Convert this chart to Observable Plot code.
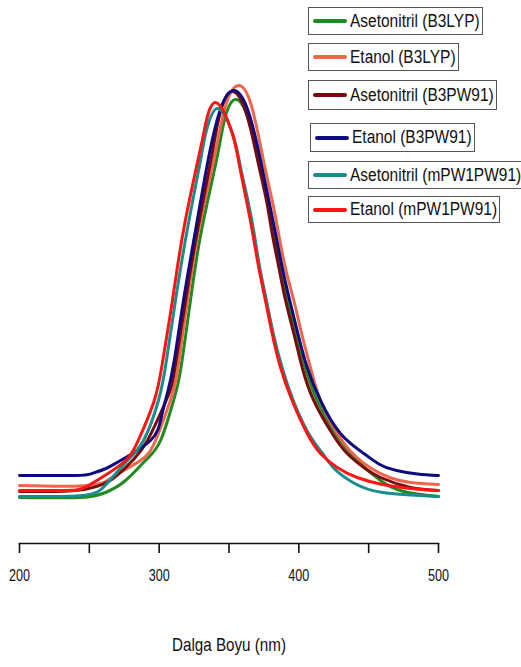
<!DOCTYPE html>
<html><head><meta charset="utf-8">
<script src="https://cdn.jsdelivr.net/npm/d3@7"></script>
<script src="https://cdn.jsdelivr.net/npm/@observablehq/plot@0.6"></script>
<style>
body{margin:0;background:#fff;}
#wrap{position:relative;width:521px;height:667px;font-family:"Liberation Sans",Arial,sans-serif;}
.lg{position:absolute;left:308px;height:28px;box-sizing:border-box;border:1px solid #555;display:flex;align-items:center;padding:0 2px 0 4px;font-size:18px;color:#111;background:#fff;white-space:nowrap;}
.sw{width:34px;height:4px;margin-right:3px;border-radius:2px;flex:none;}
.tx{display:inline-block;transform:scaleX(0.86);transform-origin:left center;}
</style>
</head><body>
<div id="wrap"></div>
<script>
const names = ["Asetonitril (B3LYP)", "Etanol (B3LYP)", "Asetonitril (B3PW91)", "Etanol (B3PW91)", "Asetonitril (mPW1PW91)", "Etanol (mPW1PW91)"];
const colors = ["#1f8a1f", "#f0664a", "#7a0a0a", "#0c0c80", "#1a8c8c", "#ff1414"];

const asetB3LYP_nm = [200, 243, 261.6, 275.9, 290.2, 301, 310.3, 315.3, 322.4, 330.3, 341, 347, 354.6, 363.7, 371, 377.5, 382.5, 387, 392, 397.8, 404.5, 413.1, 426.2, 441.8, 458.5, 475, 500];
const asetB3LYP_v  = [0, 0, 5, 17, 37, 57, 97, 127, 197, 267, 337, 379, 398, 379, 337, 297, 264, 230, 197, 164, 130, 97, 64, 37, 17, 6, 1];

const etB3LYP_nm = [200, 250, 268.7, 286.6, 297.4, 308, 313.1, 320.2, 328.2, 339, 347.6, 356.8, 366, 374.7, 380.9, 385.5, 390.3, 396.4, 402, 408.3, 415.5, 427.5, 440, 452, 465, 480, 500];
const etB3LYP_v  = [12, 12, 22, 37, 57, 97, 127, 197, 267, 337, 392, 412, 392, 337, 297, 264, 230, 197, 164, 130, 97, 64, 42, 29, 20, 15, 13];

const asetB3PW91_nm = [200, 240, 265, 280.9, 291.6, 305, 311, 318.9, 327.4, 337, 343.7, 352, 362.2, 370.5, 376.8, 380.9, 385.7, 390.5, 396.4, 402.4, 410.7, 423.9, 434.6, 446.5, 458.5, 480, 500];
const asetB3PW91_v  = [6, 7, 17, 37, 57, 97, 127, 197, 267, 337, 385, 406, 385, 337, 297, 264, 230, 197, 164, 130, 97, 64, 44, 30, 20, 10, 7];

const etB3PW91_nm = [200, 240, 252, 262, 272.3, 293.8, 301.5, 306, 310.8, 317.4, 326, 335, 343.6, 353.2, 363.6, 372.6, 378.5, 383.3, 388.1, 393.5, 399.3, 406, 415.5, 429.8, 446.5, 458, 470, 485, 500];
const etB3PW91_v  = [22, 22, 24, 29, 37, 57, 80, 105, 137, 197, 267, 337, 387, 407, 387, 337, 297, 264, 230, 197, 164, 130, 97, 64, 44, 33, 27, 23.5, 22];

const asetMPW_nm = [200, 245, 262, 277.3, 288.8, 299.5, 305.2, 311.7, 320, 330, 333, 341.5, 352.9, 358, 363.5, 368, 372, 376.8, 381.7, 388, 396, 407, 417, 426, 440, 460, 500];
const asetMPW_v  = [1, 2, 13, 37, 57, 97, 137, 197, 267, 340, 362, 389, 362, 332, 297, 264, 230, 197, 164, 130, 97, 64, 44, 28, 14, 5, 1];

const etMPW_nm = [200, 232, 245, 260, 276, 285, 296.5, 302.6, 309.5, 317.4, 328.2, 332.3, 340, 351.7, 356.8, 362.5, 367, 371.3, 376.1, 380.9, 386.9, 395.2, 406, 415.5, 427.5, 441.8, 460, 480, 500];
const etMPW_v  = [7, 7, 9, 21, 37, 57, 97, 137, 197, 267, 340, 367, 395, 367, 337, 297, 264, 230, 197, 164, 130, 97, 64, 44, 30, 20, 13, 9, 7];

const tickValues = [200, 250, 300, 350, 400, 450, 500];
const tickLabels = [200, 300, 400, 500];
const axisTitle = "Dalga Boyu (nm)";

const seriesX = [asetB3LYP_nm, etB3LYP_nm, asetB3PW91_nm, etB3PW91_nm, asetMPW_nm, etMPW_nm];
const seriesY = [asetB3LYP_v, etB3LYP_v, asetB3PW91_v, etB3PW91_v, asetMPW_v, etMPW_v];
const rows = [];
names.forEach((n, i) => seriesX[i].forEach((x, j) => rows.push({series: n, nm: x, v: seriesY[i][j]})));

const font = '"Liberation Sans",Arial,sans-serif';
const chart = Plot.plot({
  width: 521, height: 667,
  marginLeft: 19, marginRight: 83, marginTop: 20, marginBottom: 124,
  x: {domain: [200, 500]},
  y: {domain: [0, 400], range: [497, 97], axis: null},
  color: {domain: names, range: colors},
  style: {fontFamily: font, fontSize: "17px", color: "#111", background: "transparent"},
  marks: [
    Plot.line(rows, {x: "nm", y: "v", z: "series", stroke: "series", strokeWidth: 3, curve: "natural"}),
    Plot.frame({anchor: "bottom", strokeWidth: 1.6, stroke: "#111"}),
    Plot.axisX({ticks: tickValues, tickSize: 10, tickPadding: 15, strokeWidth: 1.6, fontSize: 17,
      tickFormat: d => tickLabels.includes(d) ? String(d) : "", label: null}),
    Plot.text([axisTitle], {frameAnchor: "bottom", dy: 107, fontSize: 19, text: d => d, fill: "#111"})
  ]
});
const wrap = document.getElementById("wrap");
wrap.appendChild(chart);
// condensed look of the original typeface
chart.querySelectorAll("text").forEach(t => {
  const w = t.getComputedTextLength();
  if (w > 0) {
    const f = t.textContent === axisTitle ? 0.8 : 0.74;
    t.setAttribute("textLength", (w * f).toFixed(1));
    t.setAttribute("lengthAdjust", "spacingAndGlyphs");
  }
});

const legendTops = [7, 43, 80, 123, 161, 196];
const legendHeights = [28, 28, 30, 29, 28, 27];
names.forEach((n, i) => {
  const d = document.createElement("div");
  d.className = "lg";
  d.style.top = legendTops[i] + "px";
  d.style.height = legendHeights[i] + "px";
  if (i === 3) d.style.left = "310px";
  const s = document.createElement("span");
  s.className = "sw";
  s.style.background = colors[i];
  d.appendChild(s);
  const t = document.createElement("span");
  t.className = "tx";
  t.textContent = n;
  d.appendChild(t);
  wrap.appendChild(d);
  const w = t.offsetWidth;
  t.style.marginRight = (-w * 0.14).toFixed(1) + "px";
});
</script>
</body></html>
